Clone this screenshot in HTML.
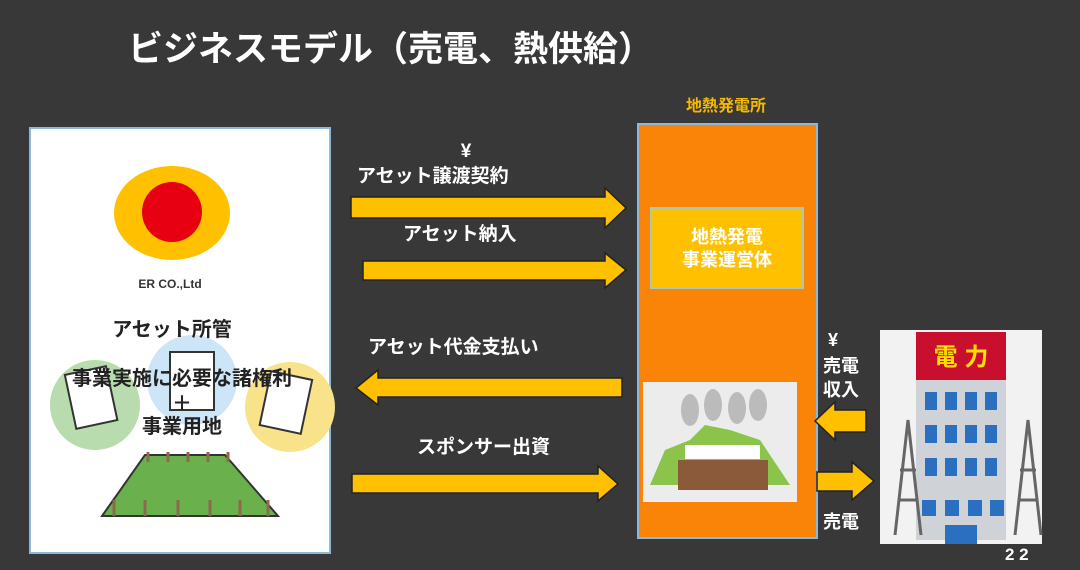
<!DOCTYPE html>
<html><head><meta charset="utf-8"><style>
html,body{margin:0;padding:0;background:#383838;}
svg{display:block}
text{font-family:"Liberation Sans","Noto Sans CJK JP",sans-serif;font-weight:bold;}
</style></head><body>
<svg width="1080" height="570" viewBox="0 0 1080 570" xmlns="http://www.w3.org/2000/svg">
<rect width="1080" height="570" fill="#383838"/>
<text x="128" y="61" fill="#fff" font-size="35">ビジネスモデル（売電、熱供給）</text>

<rect x="30" y="128" width="300" height="425" fill="#fff" stroke="#8fb8d8" stroke-width="2"/>
<ellipse cx="172" cy="213" rx="58" ry="47" fill="#ffc000"/>
<circle cx="172" cy="212" r="30" fill="#e60012"/>
<text x="170" y="288" fill="#333" font-size="12" text-anchor="middle">ER CO.,Ltd</text>
<circle cx="95" cy="405" r="45" fill="#b9dcae"/>
<circle cx="192" cy="380" r="45" fill="#cde6f7"/>
<circle cx="290" cy="407" r="45" fill="#f8e28a"/>
<rect x="70" y="370" width="42" height="55" fill="#fff" stroke="#333" stroke-width="2" transform="rotate(-12 91 397)"/>
<rect x="170" y="352" width="44" height="58" fill="#fff" stroke="#333" stroke-width="2"/>
<rect x="265" y="375" width="42" height="55" fill="#fff" stroke="#333" stroke-width="2" transform="rotate(12 286 402)"/>
<polygon points="145,455 225,455 278,516 102,516" fill="#6ab04c" stroke="#333" stroke-width="2"/>
<g stroke="#8b6b4a" stroke-width="3">
<line x1="148" y1="452" x2="148" y2="462"/><line x1="168" y1="452" x2="168" y2="462"/><line x1="188" y1="452" x2="188" y2="462"/><line x1="208" y1="452" x2="208" y2="462"/><line x1="228" y1="452" x2="228" y2="462"/>
<line x1="114" y1="500" x2="114" y2="516"/><line x1="145" y1="500" x2="145" y2="516"/><line x1="178" y1="500" x2="178" y2="516"/><line x1="210" y1="500" x2="210" y2="516"/><line x1="240" y1="500" x2="240" y2="516"/><line x1="268" y1="500" x2="268" y2="516"/>
</g>
<text x="172" y="336" fill="#222" font-size="20" text-anchor="middle">アセット所管</text>
<text x="182" y="385" fill="#222" font-size="20" text-anchor="middle">事業実施に必要な諸権利</text>
<text x="182" y="410" fill="#222" font-size="20" text-anchor="middle">＋</text>
<text x="182" y="433" fill="#222" font-size="20" text-anchor="middle">事業用地</text>

<text x="726" y="111" fill="#f5b800" font-size="16" text-anchor="middle">地熱発電所</text>
<rect x="638" y="124" width="179" height="414" fill="#f98407" stroke="#8fb8d8" stroke-width="2"/>
<rect x="651" y="208" width="152" height="80" fill="#ffc000" stroke="#a8c8b8" stroke-width="2"/>
<text x="727" y="243" fill="#fff" font-size="18" text-anchor="middle">地熱発電</text>
<text x="727" y="266" fill="#fff" font-size="18" text-anchor="middle">事業運営体</text>
<rect x="643" y="382" width="154" height="120" fill="#ececec"/>
<polygon points="650,485 665,450 690,440 705,425 730,430 760,440 790,485" fill="#8cc34a"/>
<rect x="678" y="460" width="90" height="30" fill="#8b5a3a"/>
<rect x="685" y="445" width="75" height="14" fill="#fff"/>
<ellipse cx="690" cy="410" rx="9" ry="16" fill="#bbb"/><ellipse cx="713" cy="405" rx="9" ry="16" fill="#bbb"/><ellipse cx="737" cy="408" rx="9" ry="16" fill="#bbb"/><ellipse cx="758" cy="405" rx="9" ry="16" fill="#bbb"/>

<rect x="880" y="330" width="162" height="214" fill="#f2f2f2"/>
<rect x="916" y="340" width="90" height="200" fill="#cfd3d8"/>
<rect x="916" y="332" width="90" height="48" fill="#c8102e"/>
<text x="961" y="365" fill="#ffe000" font-size="24" text-anchor="middle">電 力</text>
<g fill="#2a6fc0">
<rect x="925" y="392" width="12" height="18"/><rect x="945" y="392" width="12" height="18"/><rect x="965" y="392" width="12" height="18"/><rect x="985" y="392" width="12" height="18"/>
<rect x="925" y="425" width="12" height="18"/><rect x="945" y="425" width="12" height="18"/><rect x="965" y="425" width="12" height="18"/><rect x="985" y="425" width="12" height="18"/>
<rect x="925" y="458" width="12" height="18"/><rect x="945" y="458" width="12" height="18"/><rect x="965" y="458" width="12" height="18"/><rect x="985" y="458" width="12" height="18"/>
<rect x="922" y="500" width="14" height="16" /><rect x="945" y="500" width="14" height="16"/><rect x="968" y="500" width="14" height="16"/><rect x="990" y="500" width="14" height="16"/>
<rect x="945" y="525" width="32" height="19"/>
</g>
<g stroke="#666" stroke-width="3" fill="none">
<path d="M895 535 L908 420 L921 535 M900 470 H916 M898 500 H918"/>
<path d="M1015 535 L1028 420 L1041 535 M1020 470 H1036 M1018 500 H1038"/>
</g>

<g fill="#ffc000" stroke="#222" stroke-width="1.5">
<polygon points="351,197 605,197 605,188 626,208 605,228 605,218 351,218"/>
<polygon points="363,261 605,261 605,253 626,270 605,288 605,280 363,280"/>
<polygon points="622,378 378,378 378,370 356,388 378,405 378,397 622,397"/>
<polygon points="352,474 598,474 598,466 618,484 598,501 598,493 352,493"/>
<polygon points="866,410 835,410 835,402 815,421 835,440 835,432 866,432"/>
<polygon points="817,472 852,472 852,462 874,481 852,500 852,491 817,491"/>
</g>

<g fill="#fff" font-size="19">
<text x="466" y="157" text-anchor="middle">¥</text>
<text x="357" y="182">アセット譲渡契約</text>
<text x="403" y="240">アセット納入</text>
<text x="368" y="353">アセット代金支払い</text>
<text x="417" y="453">スポンサー出資</text>
<text x="828" y="346" font-size="18">¥</text>
<text x="823" y="372" font-size="18">売電</text>
<text x="823" y="396" font-size="18">収入</text>
<text x="823" y="528" font-size="18">売電</text>
<text x="1005" y="560" font-size="17">2 2</text>
</g>
</svg>
</body></html>
